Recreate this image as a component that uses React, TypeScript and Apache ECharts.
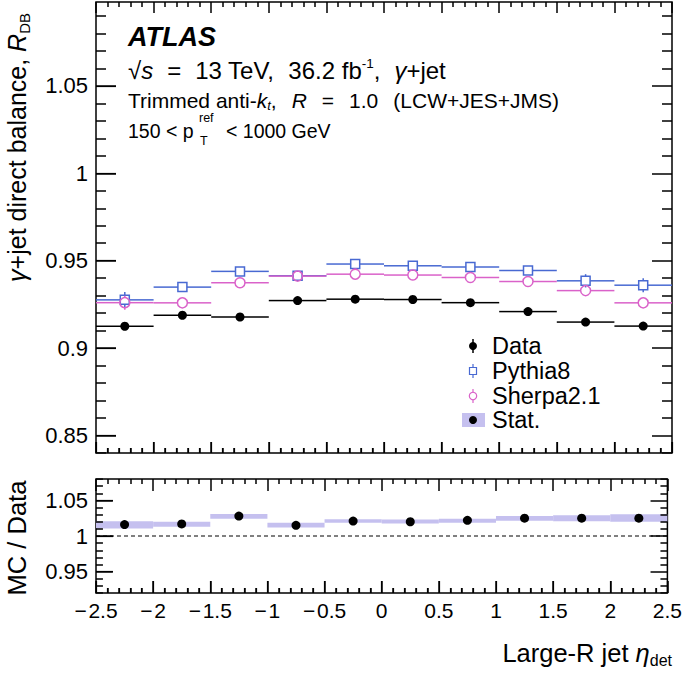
import React, { useEffect, useRef } from "react";
import * as echarts from "echarts";

// ---------- data ----------
const binEdges = [-2.5, -2, -1.5, -1, -0.5, 0, 0.5, 1, 1.5, 2, 2.5];
const dataRDB = [0.9125, 0.9188, 0.9178, 0.9272, 0.928, 0.9278, 0.926, 0.9209, 0.9149, 0.9126];
const dataErr = [0.0008, 0.0006, 0.0006, 0.0005, 0.0005, 0.0005, 0.0005, 0.0006, 0.0006, 0.0008];
const pythiaRDB = [0.9276, 0.9349, 0.9439, 0.9414, 0.9481, 0.9471, 0.9464, 0.9444, 0.9385, 0.936];
const pythiaErr = [0.0045, 0.0018, 0.0015, 0.0015, 0.0015, 0.0015, 0.0015, 0.0018, 0.0038, 0.004];
const sherpaRDB = [0.926, 0.9259, 0.9374, 0.9412, 0.9423, 0.9418, 0.9404, 0.9381, 0.9329, 0.9259];
const sherpaErr = [0.004, 0.0016, 0.0015, 0.0015, 0.0015, 0.0015, 0.0015, 0.0015, 0.002, 0.002];
const ratioMCData = [1.016, 1.017, 1.028, 1.015, 1.021, 1.02, 1.022, 1.025, 1.025, 1.025];
const statLow = [1.0107, 1.013, 1.0241, 1.012, 1.0185, 1.0176, 1.0185, 1.0213, 1.0208, 1.0199];
const statHigh = [1.0208, 1.0199, 1.031, 1.0185, 1.0236, 1.0231, 1.0241, 1.0282, 1.0292, 1.0306];

const xMajorTicks = [-2.5, -2, -1.5, -1, -0.5, 0, 0.5, 1, 1.5, 2, 2.5];
const topYMajor = [0.85, 0.9, 0.95, 1, 1.05];
const botYMajor = [0.95, 1, 1.05];
const topYRange = [0.84, 1.098];
const botYRange = [0.92, 1.08];
const xRange = [-2.5, 2.5];
const legendLabels = ["Data", "Pythia8", "Sherpa2.1", "Stat."];

// ---------- styling ----------
const FONT = "'Liberation Sans', Arial, Helvetica, sans-serif";
const BLUE = "#4869d2";
const PINK = "#da62c9";
const BAND = "#c5c0ef";
const BLACK = "#000";

const GRID_L = 96;
const GRID_W = 576;
const TOP_T = 2;
const TOP_H = 451;
const BOT_T = 479;
const BOT_H = 114;

function minorValues(range: number[], majors: number[], step: number) {
  const out: number[] = [];
  const start = Math.ceil(range[0] / step - 1e-6);
  const end = Math.floor(range[1] / step + 1e-6);
  for (let k = start; k <= end; k++) {
    const v = Math.round(k * step * 1000) / 1000;
    if (!majors.some((m) => Math.abs(m - v) < 1e-9)) out.push(v);
  }
  return out;
}

function xAxisDef(gridIndex: number, showLabel: boolean, majorLen: number) {
  return {
    type: "value",
    gridIndex,
    position: "bottom",
    min: xRange[0],
    max: xRange[1],
    interval: 0.5,
    axisLine: { show: false, onZero: false },
    axisTick: { show: true, inside: true, length: majorLen, lineStyle: { color: BLACK, width: 1.2 } },
    minorTick: { show: true, splitNumber: 5, length: 5, lineStyle: { color: BLACK, width: 1.2 } },
    splitLine: { show: false },
    minorSplitLine: { show: false },
    axisLabel: {
      show: showLabel,
      fontSize: 21,
      fontFamily: FONT,
      color: BLACK,
      margin: 7,
      formatter: (v: number) => String(v).replace("-", "\u2212\u200A"),
    },
  };
}

function yAxisDef(gridIndex: number, range: number[], values: number[], majorLen: number) {
  return {
    type: "value",
    gridIndex,
    position: "left",
    min: range[0],
    max: range[1],
    axisLine: { show: false, onZero: false },
    axisTick: {
      show: true,
      inside: true,
      length: majorLen,
      customValues: values,
      lineStyle: { color: BLACK, width: 1.2 },
    },
    splitLine: { show: false },
    axisLabel: {
      show: true,
      customValues: values,
      fontSize: 22,
      fontFamily: FONT,
      color: BLACK,
      margin: 8,
    },
  };
}

// tick marks on all four sides, as a lines series in data coordinates
function tickLinesSeries(
  axisIndex: number,
  yRange: number[],
  yMajor: number[],
  gridH: number,
  xLen: number[],
  yLen: number[]
) {
  const pxPerX = GRID_W / (xRange[1] - xRange[0]);
  const pxPerY = gridH / (yRange[1] - yRange[0]);
  const data: any[] = [];
  const xt: [number, number][] = [];
  xMajorTicks.forEach((v) => xt.push([v, xLen[0]]));
  minorValues(xRange, xMajorTicks, 0.1).forEach((v) => xt.push([v, xLen[1]]));
  xt.forEach(([v, len]) => {
    const d = len / pxPerY;
    data.push({ coords: [[v, yRange[0]], [v, yRange[0] + d]] });
    data.push({ coords: [[v, yRange[1]], [v, yRange[1] - d]] });
  });
  const yt: [number, number][] = [];
  yMajor.forEach((v) => yt.push([v, yLen[0]]));
  minorValues(yRange, yMajor, 0.01).forEach((v) => yt.push([v, yLen[1]]));
  yt.forEach(([v, len]) => {
    const d = len / pxPerX;
    data.push({ coords: [[xRange[0], v], [xRange[0] + d, v]] });
    data.push({ coords: [[xRange[1], v], [xRange[1] - d, v]] });
  });
  return {
    type: "lines",
    coordinateSystem: "cartesian2d",
    xAxisIndex: axisIndex,
    yAxisIndex: axisIndex,
    polyline: false,
    silent: true,
    z: 10,
    effect: { show: false },
    lineStyle: { color: BLACK, width: 1.5, opacity: 1, curveness: 0 },
    data,
  };
}

function mcSeries(name: string, values: number[], errs: number[], color: string, marker: string, half: number) {
  return {
    type: "custom",
    name,
    xAxisIndex: 0,
    yAxisIndex: 0,
    clip: false,
    data: values.map((v, i) => [(binEdges[i] + binEdges[i + 1]) / 2, v]),
    encode: { x: 0, y: 1 },
    renderItem: (params: any, api: any) => {
      const i = params.dataIndex;
      const x0 = binEdges[i];
      const x1 = binEdges[i + 1];
      const y = values[i];
      const e = errs[i];
      const xc = (x0 + x1) / 2;
      const pl = api.coord([x0, y]);
      const pr = api.coord([x1, y]);
      const pc = api.coord([xc, y]);
      const pt = api.coord([xc, y + e]);
      const pb = api.coord([xc, y - e]);
      const ls = { stroke: color, lineWidth: 1.5 };
      const children: any[] = [];
      const gap = marker === "dot" ? 0 : half;
      children.push({ type: "line", shape: { x1: pl[0], y1: pc[1], x2: pc[0] - gap, y2: pc[1] }, style: ls });
      children.push({ type: "line", shape: { x1: pc[0] + gap, y1: pc[1], x2: pr[0], y2: pc[1] }, style: ls });
      if (pc[1] - pt[1] > half) {
        children.push({ type: "line", shape: { x1: pc[0], y1: pt[1], x2: pc[0], y2: pc[1] - half }, style: ls });
        children.push({ type: "line", shape: { x1: pc[0], y1: pc[1] + half, x2: pc[0], y2: pb[1] }, style: ls });
      }
      if (marker === "square") {
        children.push({
          type: "rect",
          shape: { x: pc[0] - half, y: pc[1] - half, width: 2 * half, height: 2 * half },
          style: { fill: "none", stroke: color, lineWidth: 1.5 },
        });
      } else if (marker === "circle") {
        children.push({
          type: "circle",
          shape: { cx: pc[0], cy: pc[1], r: half },
          style: { fill: "none", stroke: color, lineWidth: 1.5 },
        });
      } else {
        children.push({ type: "circle", shape: { cx: pc[0], cy: pc[1], r: half }, style: { fill: color } });
      }
      return { type: "group", children };
    },
  };
}

function buildGraphics() {
  const lx = 473;
  const ly = [346, 371, 396, 420];
  const g: any[] = [
    { type: "line", shape: { x1: lx, y1: ly[0] - 7, x2: lx, y2: ly[0] + 7 }, style: { stroke: BLACK, lineWidth: 1.5 } },
    { type: "circle", shape: { cx: lx, cy: ly[0], r: 4 }, style: { fill: BLACK } },
    { type: "line", shape: { x1: lx, y1: ly[1] - 7, x2: lx, y2: ly[1] + 7 }, style: { stroke: BLUE, lineWidth: 1.2 } },
    { type: "rect", shape: { x: lx - 3.5, y: ly[1] - 3.5, width: 7, height: 7 }, style: { fill: "#fff", stroke: BLUE, lineWidth: 1.2 } },
    { type: "line", shape: { x1: lx, y1: ly[2] - 7, x2: lx, y2: ly[2] + 7 }, style: { stroke: PINK, lineWidth: 1.2 } },
    { type: "circle", shape: { cx: lx, cy: ly[2], r: 3.7 }, style: { fill: "#fff", stroke: PINK, lineWidth: 1.2 } },
    { type: "rect", shape: { x: lx - 11, y: ly[3] - 7, width: 23, height: 14 }, style: { fill: BAND } },
    { type: "circle", shape: { cx: lx, cy: ly[3], r: 4 }, style: { fill: BLACK } },
  ];
  legendLabels.forEach((t, i) => {
    g.push({
      type: "text",
      x: 492,
      y: ly[i],
      style: { text: t, fontSize: 23.5, fontFamily: FONT, fill: BLACK, align: "left", verticalAlign: "middle" },
    });
  });

  const l2 = 24;
  const l3 = 21;
  g.push(
    {
      type: "text",
      x: 128,
      y: 37,
      style: {
        text: "ATLAS",
        fontSize: 27,
        fontWeight: "bold",
        fontStyle: "italic",
        fontFamily: FONT,
        fill: BLACK,
        verticalAlign: "middle",
      },
    },
    {
      type: "text",
      x: 128,
      y: 70,
      style: {
        text:
          "{n|\u221A}{i|s}{sp| }{n|=}{sp| }{n|13 TeV,}{sp| }{n|36.2 fb}{sup|-1}{n|,}{sp| }{i|\u03B3}{n|+jet}",
        fontFamily: FONT,
        fill: BLACK,
        verticalAlign: "middle",
        rich: {
          n: { fontSize: l2, lineHeight: 27, fontFamily: FONT, fill: BLACK },
          i: { fontSize: l2, lineHeight: 27, fontStyle: "italic", fontFamily: FONT, fill: BLACK },
          sp: { fontSize: l2, lineHeight: 27, width: 14, fontFamily: FONT },
          sup: { fontSize: 13.5, lineHeight: 15, verticalAlign: "top", fontFamily: FONT, fill: BLACK },
        },
      },
    },
    {
      type: "text",
      x: 128,
      y: 100,
      style: {
        text:
          "{n|Trimmed anti-}{i|k}{sub|t}{n|,}{sp| }{i|R}{sp| }{n|=}{sp| }{n|1.0}{sp| }{n|(LCW+JES+JMS)}",
        fontFamily: FONT,
        fill: BLACK,
        verticalAlign: "middle",
        rich: {
          n: { fontSize: l3, lineHeight: 24, fontFamily: FONT, fill: BLACK },
          i: { fontSize: l3, lineHeight: 24, fontStyle: "italic", fontFamily: FONT, fill: BLACK },
          sp: { fontSize: l3, lineHeight: 24, width: 15, fontFamily: FONT },
          sub: { fontSize: 13, lineHeight: 10, verticalAlign: "bottom", fontStyle: "italic", fontFamily: FONT, fill: BLACK },
        },
      },
    },
    {
      type: "text",
      x: 128,
      y: 131,
      style: { text: "150 < p", fontSize: 19.5, fontFamily: FONT, fill: BLACK, verticalAlign: "middle" },
    },
    {
      type: "text",
      x: 199,
      y: 118,
      style: { text: "ref", fontSize: 12.5, fontFamily: FONT, fill: BLACK, verticalAlign: "middle" },
    },
    {
      type: "text",
      x: 200,
      y: 141,
      style: { text: "T", fontSize: 12.5, fontFamily: FONT, fill: BLACK, verticalAlign: "middle" },
    },
    {
      type: "text",
      x: 226,
      y: 131,
      style: { text: "< 1000 GeV", fontSize: 19.5, fontFamily: FONT, fill: BLACK, verticalAlign: "middle" },
    },
    {
      type: "text",
      x: 17,
      y: 13,
      rotation: Math.PI / 2,
      style: {
        text: "{i|\u03B3}{n|+jet direct balance, }{i|R}{sub|DB}",
        fontFamily: FONT,
        fill: BLACK,
        align: "right",
        verticalAlign: "middle",
        rich: {
          n: { fontSize: 25, lineHeight: 30, fontFamily: FONT, fill: BLACK },
          i: { fontSize: 25, lineHeight: 30, fontStyle: "italic", fontFamily: FONT, fill: BLACK },
          sub: { fontSize: 15, lineHeight: 14, verticalAlign: "bottom", fontFamily: FONT, fill: BLACK },
        },
      },
    },
    {
      type: "text",
      x: 17,
      y: 538,
      rotation: Math.PI / 2,
      style: {
        text: "MC / Data",
        fontSize: 25.5,
        fontFamily: FONT,
        fill: BLACK,
        align: "center",
        verticalAlign: "middle",
      },
    },
    {
      type: "text",
      x: 672,
      y: 653,
      style: {
        text: "{n|Large-R jet }{i|\u03B7}{sub|det}",
        fontFamily: FONT,
        fill: BLACK,
        align: "right",
        verticalAlign: "middle",
        rich: {
          n: { fontSize: 25.5, lineHeight: 30, fontFamily: FONT, fill: BLACK },
          i: { fontSize: 25.5, lineHeight: 30, fontStyle: "italic", fontFamily: FONT, fill: BLACK },
          sub: { fontSize: 16, lineHeight: 12, verticalAlign: "bottom", fontFamily: FONT, fill: BLACK },
        },
      },
    }
  );
  return g;
}

function buildOption() {
  const bandSeries = {
    type: "custom",
    name: "Stat.",
    xAxisIndex: 1,
    yAxisIndex: 1,
    data: statLow.map((lo, i) => [binEdges[i], binEdges[i + 1], lo, statHigh[i]]),
    encode: { x: [0, 1], y: [2, 3] },
    renderItem: (_p: any, api: any) => {
      const a = api.coord([api.value(0), api.value(3)]);
      const b = api.coord([api.value(1), api.value(2)]);
      return {
        type: "rect",
        shape: { x: a[0], y: a[1], width: b[0] - a[0], height: b[1] - a[1] },
        style: { fill: BAND },
      };
    },
  };

  const ratioSeries = {
    type: "custom",
    name: "ratio",
    xAxisIndex: 1,
    yAxisIndex: 1,
    clip: false,
    data: ratioMCData.map((v, i) => [(binEdges[i] + binEdges[i + 1]) / 2, v]),
    encode: { x: 0, y: 1 },
    renderItem: (_p: any, api: any) => {
      const p = api.coord([api.value(0), api.value(1)]);
      return { type: "circle", shape: { cx: p[0], cy: p[1], r: 4.5 }, style: { fill: BLACK } };
    },
  };

  const unityLine = {
    type: "line",
    xAxisIndex: 1,
    yAxisIndex: 1,
    data: [
      [xRange[0], 1],
      [xRange[1], 1],
    ],
    symbol: "none",
    lineStyle: { color: BLACK, width: 1, type: [4, 3] },
    z: 1,
  };

  return {
    animation: false,
    backgroundColor: "#fff",
    grid: [
      { show: true, left: GRID_L, top: TOP_T, width: GRID_W, height: TOP_H, borderColor: BLACK, borderWidth: 1.5, backgroundColor: "transparent" },
      { show: true, left: GRID_L, top: BOT_T, width: GRID_W, height: BOT_H, borderColor: BLACK, borderWidth: 1.5, backgroundColor: "transparent" },
    ],
    xAxis: [xAxisDef(0, false, 11), xAxisDef(1, true, 12)],
    yAxis: [yAxisDef(0, topYRange, topYMajor, 20), yAxisDef(1, botYRange, botYMajor, 17)],
    series: [
      tickLinesSeries(0, topYRange, topYMajor, TOP_H, [11, 5], [20, 10]),
      tickLinesSeries(1, botYRange, botYMajor, BOT_H, [12, 5], [17, 7]),
      mcSeries("Data", dataRDB, dataErr, BLACK, "dot", 4.5),
      mcSeries("Pythia8", pythiaRDB, pythiaErr, BLUE, "square", 4.5),
      mcSeries("Sherpa2.1", sherpaRDB, sherpaErr, PINK, "circle", 5),
      unityLine,
      bandSeries,
      ratioSeries,
    ],
    graphic: buildGraphics(),
  };
}

export default function App() {
  const ref = useRef<HTMLDivElement>(null);
  useEffect(() => {
    if (!ref.current) return;
    const chart = echarts.init(ref.current, null, { renderer: "svg" });
    chart.setOption(buildOption() as any);
    return () => chart.dispose();
  }, []);
  return <div ref={ref} style={{ position: "fixed", left: 0, top: 0, width: 685, height: 682, background: "#fff" }} />;
}
